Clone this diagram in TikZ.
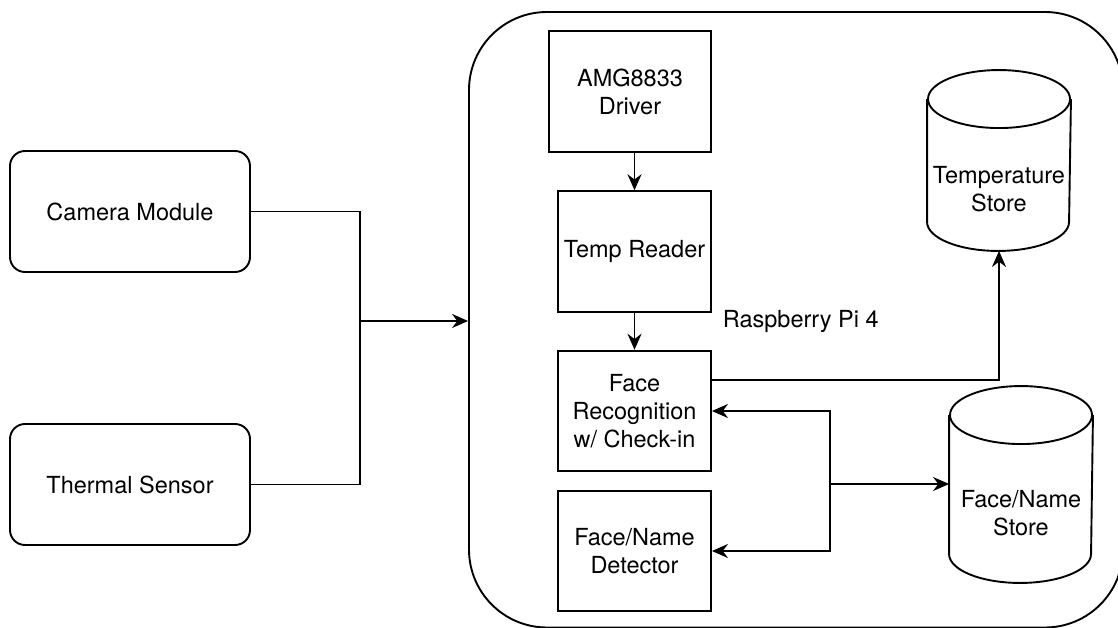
\documentclass[tikz,border=0pt]{standalone}
\usepackage{fontspec}
\setmainfont{TeX Gyre Heros}
\usetikzlibrary{calc}
\usetikzlibrary{arrows.meta}
\begin{document}
\begin{tikzpicture}[x=1pt, y=-1pt, line width=1.9pt,
every node/.style={font=\fontsize{23.5}{28}\selectfont},
block/.style={draw, align=center, inner sep=0pt, minimum width=153pt, minimum height=120.5pt},
device/.style={draw, align=center, rounded corners=15pt, minimum width=240pt, minimum height=121pt},
storebox/.style={align=center, inner sep=0pt, minimum width=142pt},
arr/.style={-{Stealth[length=16pt,width=14pt]}}]
\useasboundingbox (0,0) rectangle (1118,628);
\node[draw, rounded corners=78pt, minimum width=654pt, minimum height=615.5pt] (pi) at (796,319.75) {};
\node[anchor=base west, inner sep=0pt] (pilabel) at (722,327) {Raspberry Pi 4};
\node[device] (camera) at (130,211.5) {Camera Module};
\node[device] (thermal) at (130,484.5) {Thermal Sensor};
\node[block, minimum width=162pt] (driver) at (630,91.5) {AMG8833\\Driver};
\node[block] (reader) at (634.5,251.5) {Temp Reader};
\node[block] (facerec) at (634.5,411) {Face\\Recognition\\w/ Check-in};
\node[block] (detector) at (634.5,551) {Face/Name\\Detector};
\node[storebox, minimum height=121pt] (tstore) at (999,189.5) {Temperature\\Store};
\node[storebox, minimum height=137pt] (fnstore) at (1021,513.5) {Face/Name\\Store};
\foreach \s in {tstore, fnstore} {
\draw ($(\s.north west)+(0,-29)$) -- ($(\s.south west)+(0,-29)$) arc[start angle=180, end angle=0, x radius=71, y radius=29] -- ($(\s.north east)+(0,-29)$);
\draw ($(\s.north)+(0,-29)$) ellipse[x radius=71, y radius=29];
}
\coordinate (merge) at (360,321);
\coordinate (split) at (830,484);
\draw (camera.east) -| (merge);
\draw (thermal.east) -| (merge);
\draw[arr] (merge) -- (merge -| pi.west);
\draw[arr] (reader.north |- driver.south) -- (reader.north);
\draw[arr] (reader.south) -- (facerec.north);
\draw[arr] ([yshift=31pt]facerec.east) -| (tstore.south);
\draw[arr] (split) |- (facerec.east);
\draw[arr] (split) |- (detector.east);
\draw[arr] (split) -- (split -| fnstore.west);
\end{tikzpicture}
\end{document}
